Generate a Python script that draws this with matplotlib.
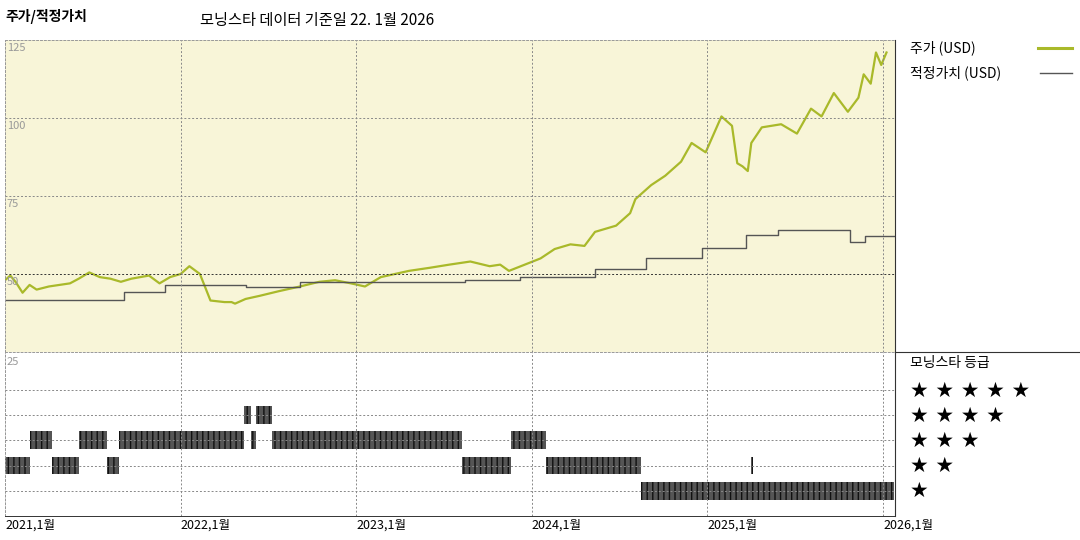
import matplotlib
matplotlib.use("Agg")
import matplotlib.pyplot as plt
from matplotlib.lines import Line2D

plt.rcParams['font.family'] = ['Noto Sans CJK KR', 'DejaVu Sans']

# price (decimal year, USD)
price_t = [2021.00,2021.03,2021.06,2021.10,2021.14,2021.18,2021.25,2021.31,2021.37,2021.42,2021.48,2021.54,2021.60,
           2021.66,2021.72,2021.77,2021.82,2021.88,2021.94,2022.00,2022.05,2022.11,2022.17,2022.25,2022.29,2022.31,
           2022.37,2022.45,2022.56,2022.68,2022.79,2022.88,2022.97,2023.05,2023.14,2023.22,2023.30,2023.42,2023.53,
           2023.65,2023.76,2023.82,2023.87,2023.96,2024.05,2024.13,2024.22,2024.30,2024.36,2024.48,2024.56,2024.59,
           2024.68,2024.76,2024.85,2024.91,2024.99,2025.08,2025.14,2025.17,2025.20,2025.23,2025.25,2025.31,2025.42,
           2025.51,2025.59,2025.65,2025.72,2025.80,2025.86,2025.89,2025.93,2025.96,2025.99,2026.02]
price_v = [48.0,49.5,47.5,44.0,46.5,45.0,46.0,46.5,47.0,48.5,50.5,49.0,48.5,
           47.5,48.5,49.0,49.5,47.0,49.0,50.0,52.5,50.0,41.5,41.0,41.0,40.5,
           42.0,43.0,44.5,46.0,47.5,48.0,47.0,46.0,49.0,50.0,51.0,52.0,53.0,
           54.0,52.5,53.0,51.0,53.0,55.0,58.0,59.5,59.0,63.5,65.5,69.5,74.0,
           78.5,81.5,86.0,92.0,89.0,100.5,97.5,85.5,84.5,83.0,92.0,97.0,98.0,
           95.0,103.0,100.5,108.0,102.0,106.5,114.0,111.0,121.0,117.0,121.0]

# fair value steps (start year, USD)
fv_t = [2021.00,2021.68,2021.91,2022.37,2022.68,2023.62,2023.93,2024.36,2024.65,2024.97,2025.22,2025.40,2025.81,2025.90,2026.07]
fv_v = [41.7,44.2,46.5,45.8,47.4,48.1,49.0,51.6,55.1,58.3,62.5,64.1,60.3,62.2,62.2]

# star rating segments (start, end, stars)
star_start = [2021.00,2021.14,2021.27,2021.42,2021.58,2021.65,2022.36,2022.40,2022.43,2022.52,2023.60,2023.88,2024.08,2024.62,2025.25]
star_end   = [2021.14,2021.27,2021.42,2021.58,2021.65,2022.36,2022.40,2022.43,2022.52,2023.60,2023.88,2024.08,2024.62,2026.06,2025.26]
star_val   = [2,3,2,3,2,3,4,3,4,3,2,3,2,1,2]

xticks = [2021,2022,2023,2024,2025,2026]
xlabels = ['2021,1월','2022,1월','2023,1월','2024,1월','2025,1월','2026,1월']

fig = plt.figure(figsize=(10.8,5.4), dpi=100)
L, R = 5/1080, 895/1080
ax = fig.add_axes([L, 1-352/540, R-L, 312/540])
ax2 = fig.add_axes([L, 1-516/540, R-L, 164/540])
xmin, xmax = 2021.0, 2021.0 + 890/175.6

ax.set_facecolor('#f8f5d8')
ax.plot(price_t, price_v, color='#a9b92a', lw=1.6)
ax.step(fv_t, fv_v, where='post', color='#555555', lw=1.0)
ax.set_xlim(xmin, xmax); ax.set_ylim(25, 125)
for y in [50,75,100]:
    ax.axhline(y, color='#888' if y != 50 else '#333', ls=(0,(2,2)), lw=0.7)
for x in xticks:
    ax.axvline(x, color='#888', ls=(0,(2,2)), lw=0.7)
for y, lbl in [(125,'125'),(100,'100'),(75,'75'),(50,'50')]:
    ax.text(2021.01, y-1.0, lbl, fontsize=8, color='#999', va='top', ha='left')
ax.set_xticks([]); ax.set_yticks([])
for s in ax.spines.values():
    s.set_color('#999'); s.set_linestyle((0,(2,2))); s.set_linewidth(0.7)
ax.spines['right'].set_visible(False)

ax2.set_xlim(xmin, xmax); ax2.set_ylim(0, 6.5)
for y in [1,2,3,4,5]:
    ax2.axhline(y, color='#888', ls=(0,(2,2)), lw=0.7)
for x in xticks:
    ax2.axvline(x, color='#888', ls=(0,(2,2)), lw=0.7)
for s, e, v in zip(star_start, star_end, star_val):
    ax2.broken_barh([(s, e-s)], (v-0.35, 0.7), facecolor='#555555', edgecolor='#111111', hatch='|||', lw=0)
ax2.text(2021.01, 6.3, '25', fontsize=8, color='#999', va='top', ha='left')
ax2.set_yticks([])
ax2.set_xticks(xticks); ax2.set_xticklabels(xlabels, fontsize=9)
ax2.tick_params(axis='x', length=0, pad=2)
for lab in ax2.get_xticklabels():
    lab.set_ha('left')
for k, s in ax2.spines.items():
    s.set_color('#999'); s.set_linestyle((0,(2,2))); s.set_linewidth(0.7)
ax2.spines['bottom'].set_color('#333'); ax2.spines['bottom'].set_linestyle('-')
ax2.spines['right'].set_visible(False)

# frame lines
fig.add_artist(Line2D([R, R], [1-40/540, 1-516/540], color='#333', lw=0.8))
fig.add_artist(Line2D([R, 1], [1-352/540, 1-352/540], color='#333', lw=0.8))

fig.text(5/1080, 1-17/540, '주가/적정가치', fontsize=10, fontweight='bold', va='center')
fig.text(200/1080, 1-21/540, '모닝스타 데이터 기준일 22. 1월 2026', fontsize=11, va='center')

fig.text(910/1080, 1-48/540, '주가 (USD)', fontsize=10, va='center')
fig.add_artist(Line2D([1038/1080, 1072/1080], [1-48/540]*2, color='#a9b92a', lw=2.2))
fig.text(910/1080, 1-73/540, '적정가치 (USD)', fontsize=10, va='center')
fig.add_artist(Line2D([1040/1080, 1072/1080], [1-73/540]*2, color='#555', lw=1))
fig.text(910/1080, 1-363/540, '모닝스타 등급', fontsize=10, va='center')
for n, yp in zip([5,4,3,2,1], [391,416,441,466,491]):
    fig.text(910/1080, 1-yp/540, ' '.join('★'*n), fontsize=15, va='center', family='DejaVu Sans')

fig.savefig('out.png', dpi=100)
